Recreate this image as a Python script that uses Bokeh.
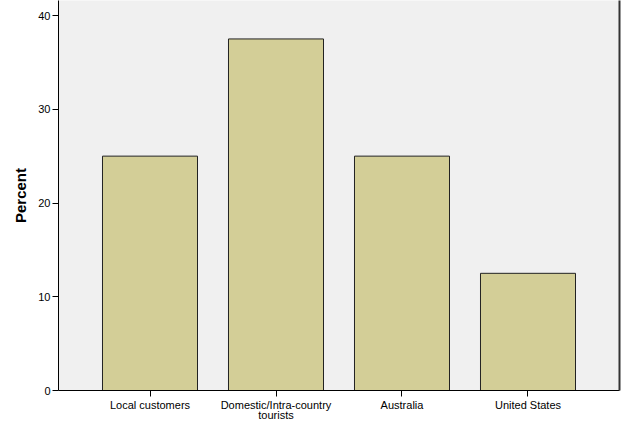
from bokeh.plotting import figure
from bokeh.models import ColumnDataSource, FixedTicker, Range1d, LinearAxis
from bokeh.embed import file_html
from bokeh.resources import INLINE

categories = ["Local customers", "Domestic/Intra-country\ntourists", "Australia", "United States"]
percent = [25.0, 37.5, 25.0, 12.5]
y_ticks = [0, 10, 20, 30, 40]

xpos = list(range(1, len(categories) + 1))
src = ColumnDataSource(dict(x=xpos, top=percent))

p = figure(width=625, height=425, output_backend="svg", toolbar_location=None,
           x_range=Range1d(0.2738, 4.7262), y_range=Range1d(0, 41.6),
           min_border_left=58, min_border_top=0, min_border_right=6, min_border_bottom=35)
p.background_fill_color = "#f0f0f0"
p.border_fill_color = "white"
p.outline_line_color = None
p.grid.visible = False

p.vbar(x="x", top="top", bottom=0, width=0.754, source=src,
       fill_color="#d3ce97", line_color="#222222", line_width=1)

right_axis = LinearAxis(ticker=FixedTicker(ticks=[]), axis_line_color="#333333", axis_line_width=2,
                        major_tick_out=0, major_tick_in=0, minor_tick_out=0, minor_tick_in=0,
                        major_label_text_font_size="0px")
p.add_layout(right_axis, "right")

for ax in (p.xaxis[0], p.yaxis[0]):
    ax.axis_line_color = "black"
    ax.axis_line_width = 1
    ax.major_tick_line_color = "black"
    ax.major_tick_out = 6
    ax.major_tick_in = 0
    ax.minor_tick_out = 0
    ax.minor_tick_in = 0
    ax.major_label_text_font = "Liberation Sans"
    ax.major_label_text_font_size = "11px"
    ax.major_label_text_color = "black"

p.xaxis.ticker = FixedTicker(ticks=xpos)
p.xaxis.major_label_overrides = {x: c for x, c in zip(xpos, categories)}
p.xaxis.major_label_standoff = 2
p.xaxis.major_label_text_line_height = 0.85

p.yaxis[0].ticker = FixedTicker(ticks=y_ticks)
p.yaxis[0].major_label_standoff = 2
p.yaxis[0].axis_label = "Percent"
p.yaxis[0].axis_label_text_font = "Liberation Sans"
p.yaxis[0].axis_label_text_font_style = "bold"
p.yaxis[0].axis_label_text_font_size = "15px"
p.yaxis[0].axis_label_text_color = "black"
p.yaxis[0].axis_label_standoff = 6

open("out.html", "w").write(file_html(p, INLINE))
